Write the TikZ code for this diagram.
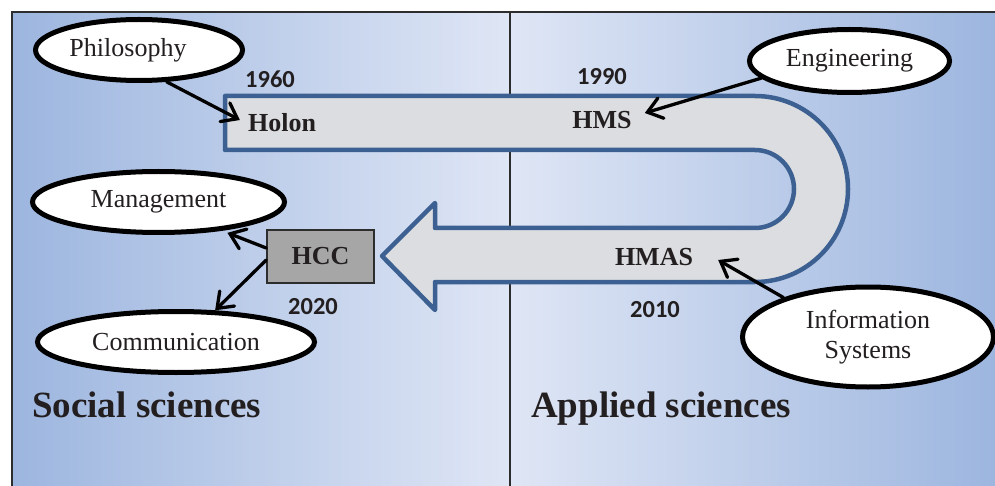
\documentclass[tikz,border=0pt]{standalone}
\usepackage{fontspec}
\setmainfont{Liberation Serif}
\newfontfamily\yearfont{Carlito}
\usetikzlibrary{arrows.meta,shapes.geometric}
\definecolor{bgdark}{RGB}{157,182,223}
\definecolor{bglight}{RGB}{223,230,245}
\definecolor{bandblue}{RGB}{59,96,145}
\definecolor{bandfill}{RGB}{220,221,224}
\definecolor{hccfill}{RGB}{166,166,166}
\definecolor{ink}{RGB}{35,31,32}
\definecolor{framec}{RGB}{45,45,45}
\begin{document}
\begin{tikzpicture}[x=1pt,y=-1pt,
  frame/.style={line width=1.5pt,draw=framec},
  band/.style={line width=4.5pt,draw=bandblue,fill=bandfill,line join=round},
  lbl/.style={inner sep=0pt,text=ink,font=\fontsize{26}{30}\selectfont\bfseries},
  yearlbl/.style={inner sep=0pt,text=ink,font=\yearfont\fontsize{24.5}{28}\selectfont\bfseries},
  bubble/.style={ellipse,draw=black,fill=white,line width=5pt,inner sep=1pt,text=ink,
    font=\fontsize{26}{30}\selectfont,align=center},
  hccbox/.style={draw=framec,fill=hccfill,line width=1.5pt,minimum width=107pt,minimum height=53pt,
    text=ink,font=\fontsize{26}{30}\selectfont\bfseries,inner sep=0pt},
  title/.style={inner sep=0pt,anchor=base west,text=ink,font=\fontsize{37}{40}\selectfont\bfseries},
  arr/.style={line width=3.3pt,draw=black,line cap=round,
    -{Straight Barb[length=14pt,width=21pt,line cap=round]}}
]
\useasboundingbox (0,0) rectangle (995,486);
\fill[white] (0,0) rectangle (995,486);
% backgrounds
\shade[left color=bgdark,right color=bglight] (12,12) rectangle (510,486);
\shade[left color=bglight,right color=bgdark] (510,12) rectangle (995,486);
\draw[frame] (12,486) -- (12,12) -- (995,12);
\draw[frame] (510,12) -- (510,486);
% U-shaped band arrow
\draw[band] (225,96) -- (755,96) arc[start angle=-90,end angle=90,radius=93]
  -- (435,282) -- (435,310) -- (382,256) -- (435,203) -- (435,228) -- (755,228)
  arc[start angle=90,end angle=-90,radius=39] -- (225,150) -- cycle;
% labels on band
\node[lbl] (holon) at (282,123) {Holon};
\node[lbl] (hms) at (602,120) {HMS};
\node[lbl] (hmas) at (654,257) {HMAS};
\node[hccbox] (hcc) at (320.5,256.5) {HCC};
% years
\node[yearlbl] (y1960) at (270,79) {1960};
\node[yearlbl] (y1990) at (602,77) {1990};
\node[yearlbl] (y2020) at (313,307) {2020};
\node[yearlbl] (y2010) at (655,310) {2010};
% bubbles
\node[bubble,minimum width=207pt,minimum height=61pt] (phil) at (139,50) {\hspace*{-22pt}Philosophy};
\node[bubble,minimum width=200pt,minimum height=63pt] (eng) at (849.5,61) {Engineering};
\node[bubble,minimum width=252pt,minimum height=61pt] (mgmt) at (158.5,202) {Management};
\node[bubble,minimum width=277pt,minimum height=61pt] (comm) at (176,342) {Communication};
\node[bubble,minimum width=251pt,minimum height=100pt] (info) at (868,337) {Information\\Systems};
% arrows
\draw[arr] (phil.-49) -- ([shift={(-8,-3)}]holon.west);
\draw[arr] (eng.-169) -- ([shift={(13,-7)}]hms.east);
\draw[arr] (info.155) -- ([shift={(25,3)}]hmas.east);
\draw[arr] ([shift={(0,-8.5)}]hcc.west) -- ([shift={(0,3)}]mgmt.-22);
\draw[arr] ([shift={(0,3.5)}]hcc.west) -- (comm.39);
% titles
\node[title] (social) at (32,417) {Social sciences};
\node[title] (applied) at (531,417) {Applied sciences};
\end{tikzpicture}
\end{document}
